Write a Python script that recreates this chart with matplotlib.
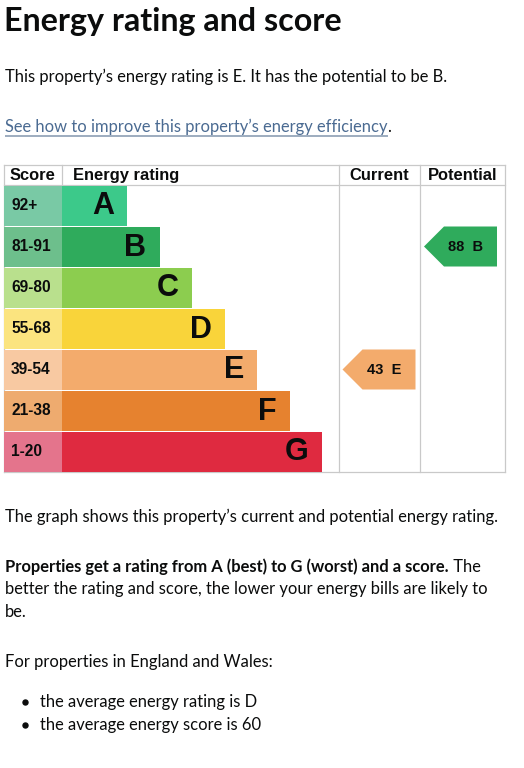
import matplotlib
matplotlib.use("Agg")
import matplotlib.pyplot as plt
from matplotlib.patches import Polygon

# ---- data ----
bands = ["A", "B", "C", "D", "E", "F", "G"]
score_ranges = ["92+", "81-91", "69-80", "55-68", "39-54", "21-38", "1-20"]
band_min = [92, 81, 69, 55, 39, 21, 1]
bar_lengths = [2, 3, 4, 5, 6, 7, 8]
bar_colors = ["#3cc98a", "#2fab5c", "#8ccd4f", "#f9d43a", "#f3ab6c", "#e6822f", "#df2a40"]
score_colors = ["#79c9a5", "#6dbf8c", "#b9e08d", "#fbe47f", "#f8c9a2", "#eeab6f", "#e4748c"]
current_score = 43
potential_score = 88
headers = ["Score", "Energy rating", "Current", "Potential"]

title = "Energy rating and score"
intro = "This property\u2019s energy rating is E. It has the potential to be B."
link = "See how to improve this property\u2019s energy efficiency"
graph_note = "The graph shows this property\u2019s current and potential energy rating."
bold_part = "Properties get a rating from A (best) to G (worst) and a score."
rest_part = " The"
line2 = "better the rating and score, the lower your energy bills are likely to"
line3 = "be."
region_note = "For properties in England and Wales:"
bullets = ["the average energy rating is D", "the average energy score is 60"]

TXT = "#0b0c0c"
GRID = "#c9c9c9"
FONT = "Lato"
TFONT = "Liberation Sans"
BS = 11.9

fig = plt.figure(figsize=(5.24, 7.68), dpi=100)
ax = fig.add_axes([0, 0, 1, 1])
ax.set_xlim(0, 524)
ax.set_ylim(768, 0)
ax.axis("off")

# ---- text block ----
ax.text(4, 21, title, fontsize=23.2, fontweight="bold", family=FONT, color=TXT, va="center")
ax.text(5, 77, intro, fontsize=BS, family=FONT, color=TXT, va="center")
t_link = ax.text(5, 127, link, fontsize=BS, family=FONT, color="#4b6b92", va="center")
fig.canvas.draw()
r = fig.canvas.get_renderer()
bb = t_link.get_window_extent(r)
lx1 = bb.x1
ax.plot([5, lx1], [136, 136], color="#8396ad", lw=1.1, solid_capstyle="butt")
ax.text(lx1, 127, ".", fontsize=BS, family=FONT, color=TXT, va="center")

ax.text(5, 517, graph_note, fontsize=BS, family=FONT, color=TXT, va="center")
t_b = ax.text(5, 567, bold_part, fontsize=BS, family=FONT, fontweight="bold", color=TXT, va="center")
fig.canvas.draw()
bb = t_b.get_window_extent(r)
ax.text(bb.x1, 567, rest_part, fontsize=BS, family=FONT, color=TXT, va="center")
ax.text(5, 589, line2, fontsize=BS, family=FONT, color=TXT, va="center")
ax.text(5, 612, line3, fontsize=BS, family=FONT, color=TXT, va="center")
ax.text(5, 662, region_note, fontsize=BS, family=FONT, color=TXT, va="center")
for i, b in enumerate(bullets):
    yb = 702 + i * 23
    ax.plot([25], [yb], marker="o", ms=3.6, color=TXT)
    ax.text(40, yb, b, fontsize=BS, family=FONT, color=TXT, va="center")

# ---- table ----
x_left, x_score, x_cur, x_pot, x_right = 4, 62, 338.5, 420, 505
y_top, y_head = 165, 185
row_h = 41
unit = 32.5
n = len(bands)
y_bottom = y_head + n * row_h

centers = [y_head + row_h * (i + 0.5) for i in range(n)]

# score cells
ax.barh(centers, [x_score - x_left] * n, left=x_left, height=row_h - 1,
        color=score_colors, edgecolor="none", zorder=2)
# rating bars
widths = [b * unit for b in bar_lengths]
ax.barh(centers, widths, left=x_score, height=row_h - 1,
        color=bar_colors, edgecolor="none", zorder=2)

for i in range(n):
    ax.text(x_left + 7, centers[i], score_ranges[i], fontsize=11.2, fontweight="bold",
            family=TFONT, color=TXT, va="center", ha="left", zorder=3)
    ax.text(x_score + widths[i] - 13, centers[i] + 1, bands[i], fontsize=22, fontweight="bold",
            family=TFONT, color=TXT, va="center", ha="right", zorder=3)

# grid lines
lw = 0.9
for yy in (y_top, y_head, y_bottom):
    ax.plot([x_left, x_right], [yy, yy], color=GRID, lw=lw, zorder=1)
for xx in (x_left, x_cur, x_pot, x_right):
    ax.plot([xx, xx], [y_top, y_bottom], color=GRID, lw=lw, zorder=1)
ax.plot([x_score, x_score], [y_top, y_head], color=GRID, lw=lw, zorder=1)

# headers
hy = (y_top + y_head) / 2 + 0.5
HS = 11.9
ax.text(10, hy, headers[0], fontsize=HS, fontweight="bold", family=TFONT, color=TXT, va="center")
ax.text(73, hy, headers[1], fontsize=HS, fontweight="bold", family=TFONT, color=TXT, va="center")
ax.text((x_cur + x_pot) / 2, hy, headers[2], fontsize=HS, fontweight="bold", family=TFONT,
        color=TXT, va="center", ha="center")
ax.text((x_pot + x_right) / 2, hy, headers[3], fontsize=HS, fontweight="bold", family=TFONT,
        color=TXT, va="center", ha="center")


def band_of(score):
    for i, m in enumerate(band_min):
        if score >= m:
            return i
    return n - 1


def arrow(col_left, score):
    i = band_of(score)
    yc = centers[i]
    h = (row_h - 1) / 2
    tip = col_left + 4
    box_l = tip + 20
    box_r = box_l + 53
    poly = Polygon([(tip, yc), (box_l, yc - h), (box_r, yc - h), (box_r, yc + h), (box_l, yc + h)],
                   closed=True, facecolor=bar_colors[i], edgecolor="none", zorder=2)
    ax.add_patch(poly)
    ax.text(box_l - 5 + (box_r - box_l) / 2, yc + 0.5, f"{score}  {bands[i]}", fontsize=10.5,
            fontweight="bold", family=TFONT, color=TXT, va="center", ha="center", zorder=3)


arrow(x_cur, current_score)
arrow(x_pot, potential_score)

fig.savefig("out.png", dpi=100, facecolor="white")
